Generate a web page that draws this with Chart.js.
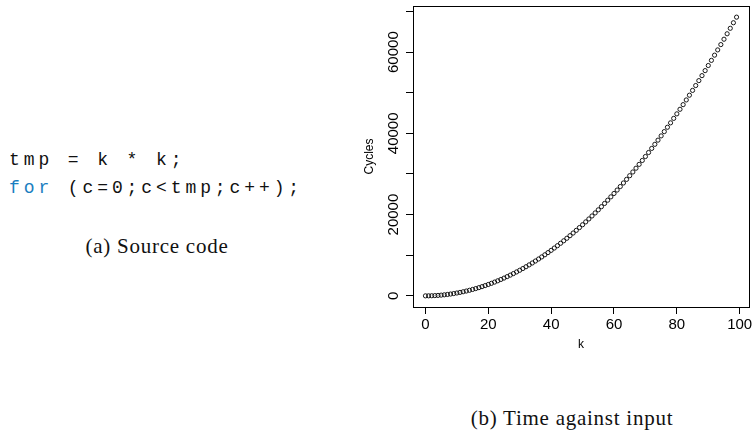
<!DOCTYPE html>
<html>
<head>
<meta charset="utf-8">
<script src="https://cdn.jsdelivr.net/npm/chart.js@4.4.1/dist/chart.umd.min.js"></script>
<style>
  html, body { margin: 0; padding: 0; background: #fff; }
  body { width: 755px; height: 430px; position: relative; overflow: hidden; }
  #chartBox { position: absolute; left: 0; top: 0; width: 755px; height: 430px; }
  .code { position: absolute; left: 9px; font-family: "Liberation Mono", "DejaVu Sans Mono", monospace;
          font-size: 18px; letter-spacing: 3.9px; color: #111; white-space: pre; }
  .kw { color: #1a7ec0; }
  .caption { position: absolute; font-family: "Liberation Serif", "DejaVu Serif", serif; font-size: 21px;
             letter-spacing: 0.75px; line-height: 24px; color: #111; white-space: nowrap; transform: translateX(-50%); }
</style>
</head>
<body>
<div class="code" style="top:150px">tmp = k * k;</div>
<div class="code" style="top:178px"><span class="kw">for</span> (c=0;c&lt;tmp;c++);</div>
<div class="caption" style="left:157px; top:234px">(a) Source code</div>
<div class="caption" style="left:572px; top:406px">(b) Time against input</div>
<div id="chartBox"><canvas id="chart"></canvas></div>
<script>
// input size k and measured cycle counts
const kValues = [
  0, 1, 2, 3, 4, 5, 6, 7, 8, 9,
  10, 11, 12, 13, 14, 15, 16, 17, 18, 19,
  20, 21, 22, 23, 24, 25, 26, 27, 28, 29,
  30, 31, 32, 33, 34, 35, 36, 37, 38, 39,
  40, 41, 42, 43, 44, 45, 46, 47, 48, 49,
  50, 51, 52, 53, 54, 55, 56, 57, 58, 59,
  60, 61, 62, 63, 64, 65, 66, 67, 68, 69,
  70, 71, 72, 73, 74, 75, 76, 77, 78, 79,
  80, 81, 82, 83, 84, 85, 86, 87, 88, 89,
  90, 91, 92, 93, 94, 95, 96, 97, 98, 99
];
const cycles = [
  0, 7, 28, 63, 112, 175, 252, 343, 448, 567,
  700, 847, 1008, 1183, 1372, 1575, 1792, 2023, 2268, 2527,
  2800, 3087, 3388, 3703, 4032, 4375, 4732, 5103, 5488, 5887,
  6300, 6727, 7168, 7623, 8092, 8575, 9072, 9583, 10108, 10647,
  11200, 11767, 12348, 12943, 13552, 14175, 14812, 15463, 16128, 16807,
  17500, 18207, 18928, 19663, 20412, 21175, 21952, 22743, 23548, 24367,
  25200, 26047, 26908, 27783, 28672, 29575, 30492, 31423, 32368, 33327,
  34300, 35287, 36288, 37303, 38332, 39375, 40432, 41503, 42588, 43687,
  44800, 45927, 47068, 48223, 49392, 50575, 51772, 52983, 54208, 55447,
  56700, 57967, 59248, 60543, 61852, 63175, 64512, 65863, 67228, 68607
];
const xTicks = [0, 20, 40, 60, 80, 100];
const yTicks = [0, 10000, 20000, 30000, 40000, 50000, 60000, 70000];
const yLabelled = [0, 20000, 40000, 60000];

const tickFont = { family: '"Liberation Sans", Arial, sans-serif', size: 15 };
const titleFont = { family: '"Liberation Sans", Arial, sans-serif', size: 12 };

// R style: 4% padding on each side of the data range
const xSpan = kValues[kValues.length - 1] - kValues[0];
const ySpan = Math.max(...cycles) - Math.min(...cycles);

const boxPlugin = {
    id: 'box',
    afterDraw(chart) {
        const { ctx, chartArea: a } = chart;
        ctx.save();
        ctx.strokeStyle = '#000';
        ctx.lineWidth = 1;
        ctx.strokeRect(Math.round(a.left) + 0.5, Math.round(a.top) + 0.5,
            Math.round(a.right - a.left), Math.round(a.bottom - a.top));
        ctx.restore();
    }
};

const ctx = document.getElementById('chart').getContext('2d');
new Chart(ctx, {
    type: 'scatter',
    data: {
        datasets: [{
            data: kValues.map((k, i) => ({ x: k, y: cycles[i] })),
            pointStyle: 'circle',
            pointRadius: 2.1,
            pointBorderWidth: 0.9,
            borderColor: '#000',
            backgroundColor: 'rgba(0,0,0,0)'
        }]
    },
    options: {
        responsive: true,
        maintainAspectRatio: false,
        animation: false,
        events: [],
        layout: { padding: { left: 350, right: 6, top: 6, bottom: 72 } },
        plugins: { legend: { display: false }, tooltip: { enabled: false } },
        scales: {
            x: {
                type: 'linear',
                min: kValues[0] - 0.04 * xSpan,
                max: kValues[kValues.length - 1] + 0.04 * xSpan,
                afterBuildTicks: s => { s.ticks = xTicks.map(v => ({ value: v })); },
                afterFit: s => { s.height = 51; s.paddingLeft = 0; s.paddingRight = 0; },
                border: { display: false },
                grid: { drawOnChartArea: false, tickLength: 7, color: '#000', tickColor: '#000' },
                ticks: { autoSkip: false, maxRotation: 0, color: '#000', font: tickFont, padding: 2,
                         callback: v => String(v) },
                title: { display: true, text: 'k', color: '#000', font: titleFont,
                         padding: { top: 0, bottom: 6 } }
            },
            y: {
                type: 'linear',
                min: Math.min(...cycles) - 0.04 * ySpan,
                max: Math.max(...cycles) + 0.04 * ySpan,
                afterBuildTicks: s => { s.ticks = yTicks.map(v => ({ value: v })); },
                afterFit: s => { s.width = 63; },
                border: { display: false },
                grid: { drawOnChartArea: false, tickLength: 7, color: '#000', tickColor: '#000' },
                ticks: { autoSkip: false, minRotation: 90, maxRotation: 90, crossAlign: 'center',
                         color: '#000', font: tickFont, padding: -9,
                         callback: v => yLabelled.includes(v) ? String(v) : '' },
                title: { display: true, text: 'Cycles', color: '#000', font: titleFont,
                         padding: { top: 12, bottom: 0 } }
            }
        }
    },
    plugins: [boxPlugin]
});
</script>
</body>
</html>
